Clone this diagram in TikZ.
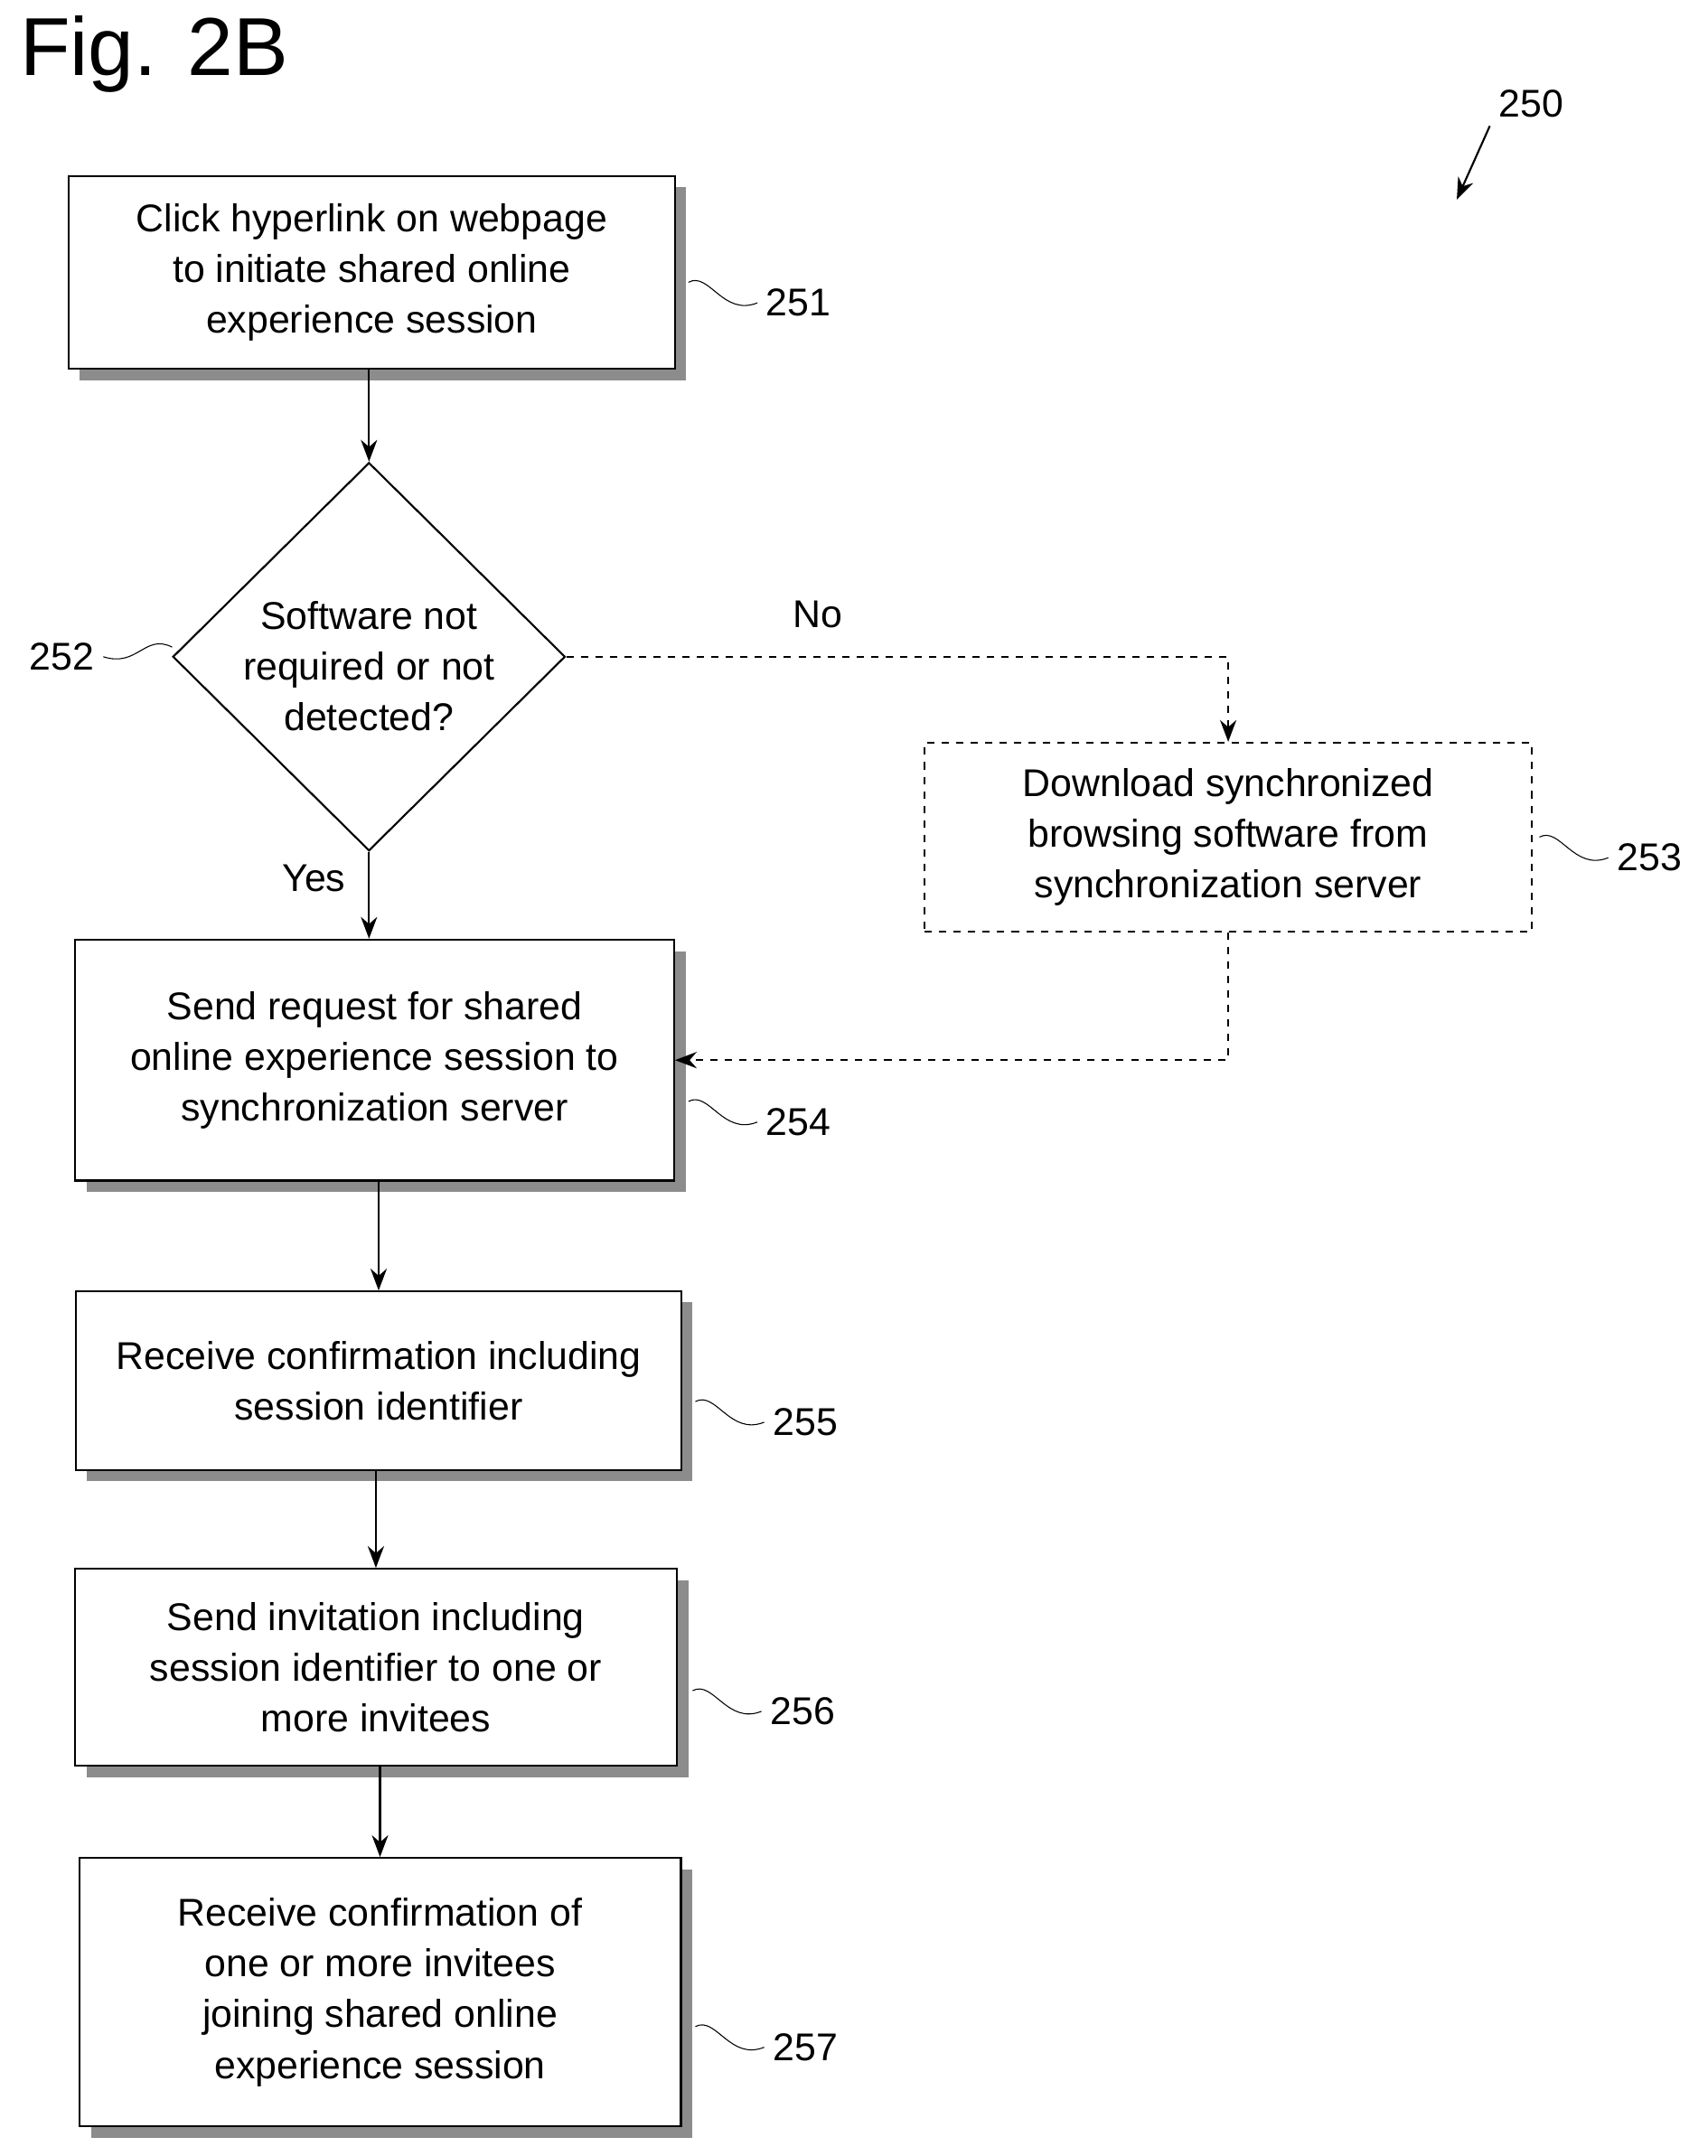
\documentclass[tikz,border=0pt]{standalone}
\usepackage{fontspec}
\setmainfont{Liberation Sans}
\usetikzlibrary{arrows.meta,positioning,calc,shapes.geometric}
\begin{document}
\begin{tikzpicture}[x=0.02cm,y=-0.02cm,thick,
  box/.style={draw,fill=white,align=center,font=\fontsize{16}{21}\selectfont,inner sep=0pt},
  shade/.style={fill=black!45},
  flow/.style={-{Stealth[length=9pt]}},
  dflow/.style={flow,dashed},
  ref/.style={font=\fontsize{16}{20}\selectfont}]
\useasboundingbox (0,0) rectangle (1240,1566);

% Title and figure number
\node[anchor=north west,font=\fontsize{34}{40}\selectfont] (fig) at (8,5) {Fig. 2B};
\node[ref] (n250) at (1112,75) {250};
\coordinate (a250) at (1058,145);
\draw[flow] (n250.south west) -- (a250);

% Boxes with shadows
\foreach \xa/\ya/\xb/\yb in {50/128/490/268, 55/683/490/858, 55/938/495/1068, 55/1140/492/1283, 58/1350/495/1545}
  \fill[shade] (\xa+8,\ya+8) rectangle (\xb+8,\yb+8);

\node[box,minimum width=440*0.02cm,minimum height=140*0.02cm] (b251) at (270,198)
  {Click hyperlink on webpage\\to initiate shared online\\experience session};
\node[box,diamond,minimum width=285*0.02cm,minimum height=282*0.02cm,aspect=1] (d252) at (268,477) {};
\node[align=center,font=\fontsize{16}{21}\selectfont] (t252) at (268,484) {Software not\\required or not\\detected?};
\node[box,dashed,minimum width=441*0.02cm,minimum height=137*0.02cm] (b253) at (892,608)
  {Download synchronized\\browsing software from\\synchronization server};
\node[box,minimum width=435*0.02cm,minimum height=175*0.02cm] (b254) at (272,770)
  {Send request for shared\\online experience session to\\synchronization server};
\node[box,minimum width=440*0.02cm,minimum height=130*0.02cm] (b255) at (275,1003)
  {Receive confirmation including\\session identifier};
\node[box,minimum width=437*0.02cm,minimum height=143*0.02cm] (b256) at (273,1211)
  {Send invitation including\\session identifier to one or\\more invitees};
\node[box,minimum width=437*0.02cm,minimum height=195*0.02cm] (b257) at (276,1447)
  {Receive confirmation of\\one or more invitees\\joining shared online\\experience session};

% Connectors
\draw[flow] (b251.south -| d252.north) -- (d252.north);
\draw[flow] (d252.south) -- (d252.south |- b254.north) node[pos=0.3,left=6pt,ref] {Yes};
\draw[dflow] (d252.east) -| (b253.north) node[pos=0.19,above=8pt,ref] {No};
\draw[dflow] (b253.south) |- (b254.east);
\draw[flow] (b254.south -| b255.north) -- (b255.north);
\draw[flow] (b255.south -| b256.north) -- (b256.north);
\draw[flow] (b256.south -| b257.north) -- (b257.north);

% Reference numerals
\foreach \nm/\xa/\ya in {251/500/205, 253/1118/608, 254/500/800, 255/505/1018, 256/503/1228, 257/505/1472}{
  \node[ref,anchor=west] (r\nm) at (\xa+50,\ya+15) {\nm};
  \draw[thin] (\xa,\ya) .. controls (\xa+15,\ya-8) and (\xa+25,\ya+25) .. (r\nm.west);
}
\node[ref,anchor=east] (r252) at (75,477) {252};
\draw[thin] (r252.east) .. controls (100,485) and (105,460) .. (125,470);
\end{tikzpicture}
\end{document}
